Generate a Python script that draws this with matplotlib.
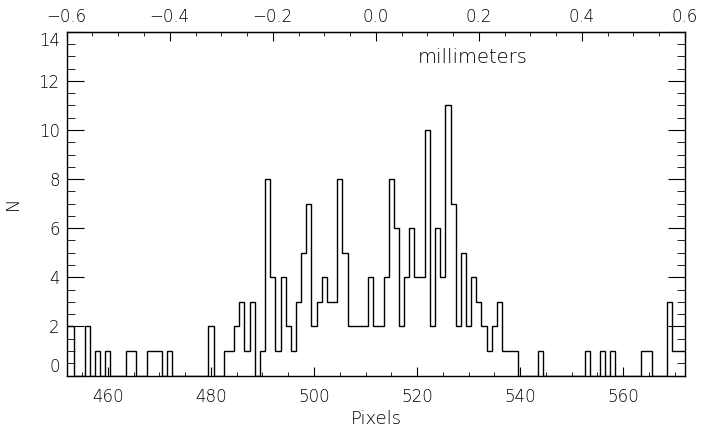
import matplotlib.pyplot as plt
import numpy as np
from matplotlib.ticker import MultipleLocator

# Histogram counts, one per pixel, pixels 452..572
first_pixel = 452
counts = [2, 2, 0, 0, 2, 0, 1, 0,            # 452-459
          1, 0, 0, 0, 1, 1, 0, 0, 1, 1,      # 460-469
          1, 0, 1, 0, 0, 0, 0, 0, 0, 0,      # 470-479
          2, 0, 0, 1, 1, 2, 3, 1, 3, 0,      # 480-489
          1, 8, 4, 1, 4, 2, 1, 3, 5, 7,      # 490-499
          2, 3, 4, 3, 3, 8, 5, 2, 2, 2,      # 500-509
          2, 4, 2, 2, 4, 8, 6, 2, 4, 6,      # 510-519
          4, 4, 10, 2, 6, 4, 11, 7, 2, 5,    # 520-529
          2, 4, 3, 2, 1, 2, 3, 1, 1, 1,      # 530-539
          0, 0, 0, 0, 1, 0, 0, 0, 0, 0,      # 540-549
          0, 0, 0, 1, 0, 0, 1, 0, 1, 0,      # 550-559
          0, 0, 0, 0, 1, 1, 0, 0, 0, 3,      # 560-569
          1, 1, 1]                           # 570-572

center_pixel = 512
mm_per_pixel = 0.01

pixels = first_pixel + np.arange(len(counts))
edges = np.append(pixels - 0.5, pixels[-1] + 0.5)

plt.rcParams['font.family'] = 'DejaVu Sans'
plt.rcParams['font.weight'] = 'light'
plt.rcParams['axes.labelweight'] = 'light'
plt.rcParams['font.size'] = 12

fig = plt.figure(figsize=(7.02, 4.29), dpi=100)
ax = fig.add_axes([0.095, 0.1247, 0.8808, 0.8013])

ax.stairs(counts, edges, color='black', lw=1.0, baseline=0)

ax.set_xlim(452, 572)
ax.set_ylim(0, 14)

ax.xaxis.set_major_locator(MultipleLocator(20))
ax.xaxis.set_minor_locator(MultipleLocator(5))
ax.set_yticks(range(0, 15, 2))
ax.yaxis.set_minor_locator(MultipleLocator(0.5))

ax.tick_params(axis='x', which='major', direction='in', length=6.5, top=False, pad=9)
ax.tick_params(axis='x', which='minor', direction='in', length=3.2, top=False)
ax.tick_params(axis='y', which='major', direction='in', length=12, right=True, pad=5)
ax.tick_params(axis='y', which='minor', direction='in', length=6, right=True)

sec = ax.secondary_xaxis('top', functions=(lambda v: (v - center_pixel) * mm_per_pixel,
                                           lambda m: m / mm_per_pixel + center_pixel))
sec.xaxis.set_minor_locator(MultipleLocator(0.05))
sec.tick_params(which='major', direction='in', length=6.5, pad=4)
sec.tick_params(which='minor', direction='in', length=3.2)
sec.set_xticks([-0.6, -0.4, -0.2, 0.0, 0.2, 0.4, 0.6])
sec.set_xticklabels(['\u22120.6', '\u22120.4', '\u22120.2', '0.0', '0.2', '0.4', '0.6'])

for s in ax.spines.values():
    s.set_linewidth(1.0)

ax.text(0.657, 0.926, 'millimeters', transform=ax.transAxes, ha='center', va='center',
        fontsize=14)
ax.set_xlabel('Pixels', labelpad=3, fontsize=13)
ax.set_ylabel('N', labelpad=12, fontsize=13)

# end labels sit a bit inside, like the original
fig.canvas.draw()
ylabels = ax.get_yticklabels()
ylabels[0].set_verticalalignment('bottom')
ylabels[-1].set_verticalalignment('top')

plt.savefig('out.png', dpi=100)
